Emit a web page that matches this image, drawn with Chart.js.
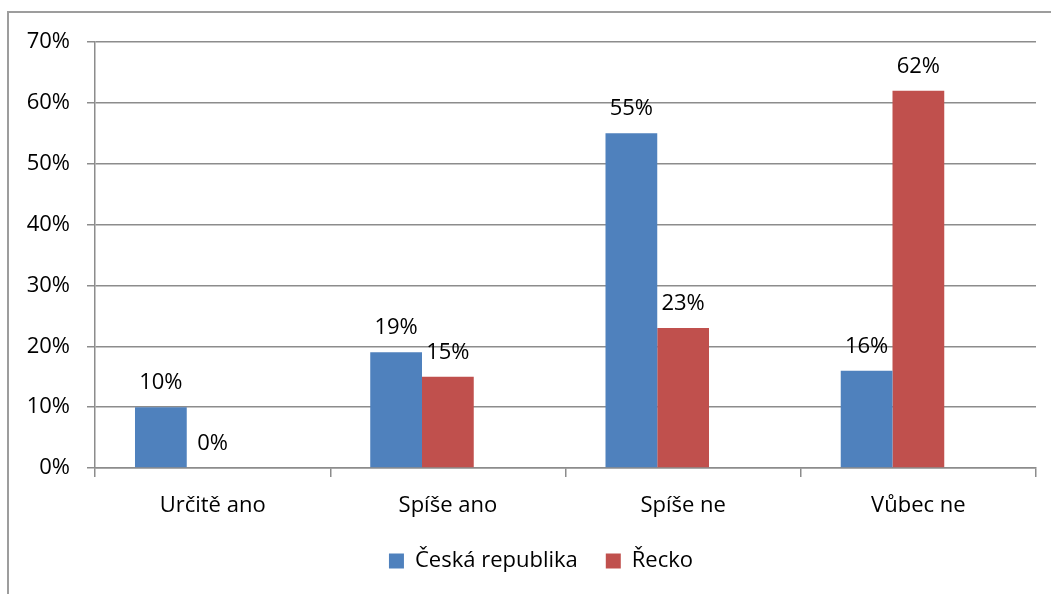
<!DOCTYPE html>
<html>
<head>
<meta charset="utf-8">
<script src="https://cdn.jsdelivr.net/npm/chart.js@4/dist/chart.umd.min.js"></script>
<style>
  html, body { margin: 0; padding: 0; background: #ffffff; }
  #wrap { position: relative; width: 1051px; height: 594px; overflow: hidden; }
  #frame {
    position: absolute; left: 7px; top: 11px; width: 1100px; height: 650px;
    border-left: 2px solid #9d9d9d; border-top: 2px solid #9d9d9d;
  }
  #c { position: absolute; left: 0; top: 0; }
</style>
</head>
<body>
<div id="wrap">
  <div id="frame"></div>
  <canvas id="c" width="1051" height="594"></canvas>
</div>
<script>
// Answer categories
const categories = ['Určitě ano', 'Spíše ano', 'Spíše ne', 'Vůbec ne'];
// Share of respondents (%) per country
const ceskaRepublika = [10, 19, 55, 16];
const recko = [0, 15, 23, 62];
// Third, empty series slot keeps the clusters in their place within each category
const emptySeries = [null, null, null, null];
const seriesNames = ['Česká republika', 'Řecko'];
const yTicks = [0, 10, 20, 30, 40, 50, 60, 70];

const FONT = '"Open Sans", "Noto Sans", sans-serif';
const FONT_SIZE = 22;

// Value labels above each bar
const valueLabels = {
  id: 'valueLabels',
  afterDatasetsDraw(chart) {
    const ctx = chart.ctx;
    ctx.save();
    ctx.font = FONT_SIZE + 'px ' + FONT;
    ctx.fillStyle = '#000000';
    ctx.textAlign = 'center';
    ctx.textBaseline = 'alphabetic';
    chart.data.datasets.forEach((ds, di) => {
      const meta = chart.getDatasetMeta(di);
      meta.data.forEach((bar, i) => {
        const v = ds.data[i];
        if (v === null || v === undefined) return;
        ctx.fillText(v + '%', bar.x, bar.y - 18);
      });
    });
    ctx.restore();
  }
};

// Centre the legend under the plot at a fixed x
const legendShift = {
  id: 'legendShift',
  afterLayout(chart) {
    const lg = chart.legend;
    if (!lg) return;
    const dx = 541 - (lg.left + lg.right) / 2;
    lg.left += dx;
    lg.right += dx;
  }
};

new Chart(document.getElementById('c'), {
  type: 'bar',
  data: {
    labels: categories,
    datasets: [
      { label: seriesNames[0], data: ceskaRepublika, backgroundColor: '#4F81BD' },
      { label: seriesNames[1], data: recko, backgroundColor: '#C0504D' },
      { label: '', data: emptySeries, backgroundColor: 'rgba(0,0,0,0)' }
    ]
  },
  options: {
    responsive: false,
    animation: false,
    devicePixelRatio: 1,
    layout: { padding: { left: 0, right: 15, top: 42, bottom: 12 } },
    datasets: { bar: { categoryPercentage: 0.66, barPercentage: 1.0 } },
    scales: {
      x: {
        grid: { display: true, drawOnChartArea: false, offset: true, color: '#8c8c8c', lineWidth: 1.5, tickLength: 9 },
        border: { display: true, color: '#8c8c8c', width: 1.5 },
        ticks: { color: '#000000', font: { family: FONT, size: FONT_SIZE }, padding: 16 },
        afterFit(scale) { scale.height = 54; }
      },
      y: {
        min: 0, max: 70,
        afterBuildTicks(scale) { scale.ticks = yTicks.map(v => ({ value: v })); },
        grid: { color: '#8c8c8c', lineWidth: 1.5, tickLength: 8 },
        border: { display: true, color: '#8c8c8c', width: 1.5 },
        ticks: { color: '#000000', font: { family: FONT, size: FONT_SIZE }, padding: 17, callback: v => v + '%' },
        afterFit(scale) { scale.width = 95; }
      }
    },
    plugins: {
      legend: {
        position: 'bottom',
        labels: {
          color: '#000000',
          font: { family: FONT, size: FONT_SIZE },
          boxWidth: 15, boxHeight: 15, padding: 28,
          filter: item => item.text !== ''
        }
      },
      tooltip: { enabled: false }
    }
  },
  plugins: [valueLabels, legendShift]
});
</script>
</body>
</html>
